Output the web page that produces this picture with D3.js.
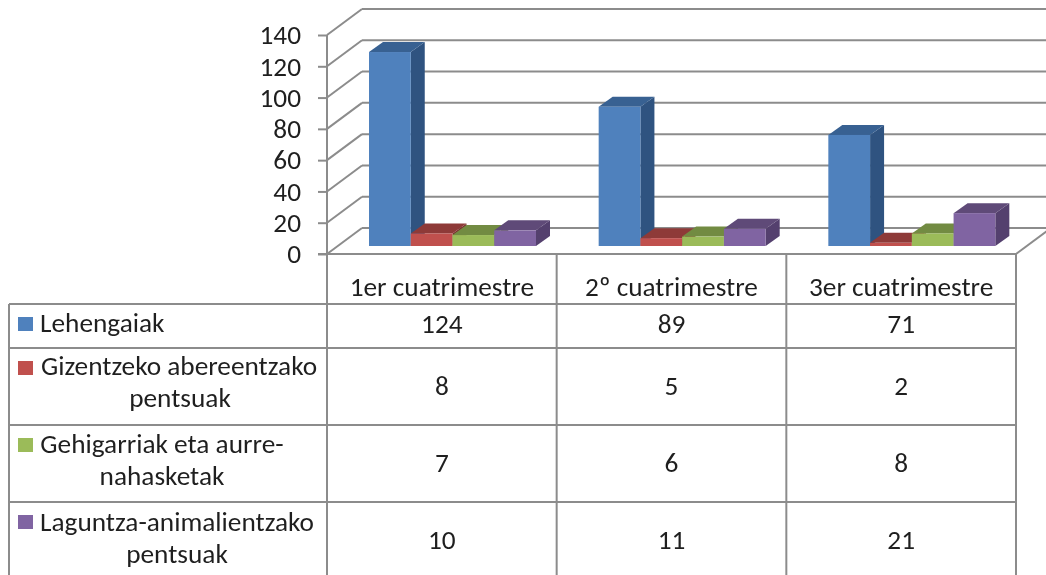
<!DOCTYPE html>
<html>
<head>
<meta charset="utf-8">
<script src="https://cdn.jsdelivr.net/npm/d3@7"></script>
<style>
  html, body { margin: 0; padding: 0; background: #fff; overflow: hidden; }
  svg { display: block; filter: blur(0.6px); }
  text { font-family: Carlito, Lato, "Open Sans", sans-serif; fill: #1f1f1f; font-size: 27.3px; }
  .axis path { display: none; }
  .axis line, .grid, .rule { stroke: #8c8c8c; stroke-width: 2; fill: none; }
</style>
</head>
<body>
<div id="chart"></div>
<script>
const quarters = ['1er cuatrimestre', '2º cuatrimestre', '3er cuatrimestre'];
const seriesNames = ['Lehengaiak', 'Gizentzeko abereentzako', 'Gehigarriak eta aurre-', 'Laguntza-animalientzako'];
const seriesSecondLine = ['', 'pentsuak', 'nahasketak', 'pentsuak'];
const lehengaiak = [124, 89, 71];
const gizentzeko = [8, 5, 2];
const gehigarriak = [7, 6, 8];
const laguntza = [10, 11, 21];
const yTicks = [0, 20, 40, 60, 80, 100, 120, 140];

const allSeries = [lehengaiak, gizentzeko, gehigarriak, laguntza];
const front = ['#4f81bd', '#c0504d', '#9bbb59', '#8064a2'];
const top_ = ['#386192', '#8e3a38', '#728b42', '#5f4a78'];
const side = ['#2f5380', '#7a302e', '#617637', '#54406e'];

const width = 1046, height = 575;

const svg = d3.select('#chart').append('svg')
  .attr('width', width)
  .attr('height', height);

const x = d3.scaleBand().domain(quarters).range([327, 1016]);
const inner = d3.scaleBand().domain(d3.range(4))
  .range([42, 42 + 167]);
const y = d3.scaleLinear().domain([0, 140]).range([254, 35]);

// wall and floor depth of the fake 3d
const wallDx = 35, wallDy = -26;
const barDx = 14, barDy = -10, barLift = -8;

function addText(px, py, str, anchor) {
  return svg.append('text')
    .attr('x', px)
    .attr('y', py)
    .attr('text-anchor', anchor || 'middle')
    .text(str);
}

// back wall grid, clipped by the picture edge
svg.append('g').selectAll('line').data(yTicks).join('line')
  .attr('class', 'grid')
  .attr('x1', 327 + wallDx).attr('x2', 1016 + wallDx)
  .attr('y1', d => y(d) + wallDy).attr('y2', d => y(d) + wallDy);
svg.append('g').selectAll('line').data(yTicks).join('line')
  .attr('class', 'grid')
  .attr('x1', 327).attr('x2', 327 + wallDx)
  .attr('y1', d => y(d)).attr('y2', d => y(d) + wallDy);
svg.append('line').attr('class', 'grid')
  .attr('x1', 1016).attr('x2', 1016 + wallDx)
  .attr('y1', y(0)).attr('y2', y(0) + wallDy);

// bars, left to right so the side faces get covered
quarters.forEach((q, qi) => {
  allSeries.forEach((values, si) => {
    const g = svg.append('g');
    const x0 = x(q) + inner(si);
    const x1 = x0 + inner.bandwidth();
    const yb = y(0) + barLift;
    const yt = y(values[qi]) + barLift;
    g.append('path').attr('fill', side[si])
      .attr('d', `M${x1},${yt}L${x1 + barDx},${yt + barDy}L${x1 + barDx},${yb + barDy}L${x1},${yb}Z`);
    g.append('path').attr('fill', top_[si])
      .attr('d', `M${x0},${yt}L${x0 + barDx},${yt + barDy}L${x1 + barDx},${yt + barDy}L${x1},${yt}Z`);
    g.append('rect').attr('fill', front[si])
      .attr('x', x0).attr('y', yt)
      .attr('width', inner.bandwidth()).attr('height', yb - yt);
  });
});

// y axis
const axis = svg.append('g')
  .attr('class', 'axis')
  .attr('transform', 'translate(327,0)')
  .call(d3.axisLeft(y).tickValues(yTicks).tickSize(9).tickPadding(17));
axis.attr('font-family', null).attr('font-size', null);
svg.append('line').attr('class', 'rule').attr('x1', 327).attr('x2', 327).attr('y1', y(140)).attr('y2', 575);

// table rules
const rowLines = [254, 304, 348, 425, 502];
rowLines.forEach(ry => {
  svg.append('line').attr('class', 'rule')
    .attr('x1', ry === 254 ? 318 : 9).attr('x2', 1016)
    .attr('y1', ry).attr('y2', ry);
});
svg.append('line').attr('class', 'rule').attr('x1', 9).attr('x2', 9).attr('y1', 304).attr('y2', 575);
quarters.forEach(q => {
  svg.append('line').attr('class', 'rule')
    .attr('x1', x(q) + x.bandwidth()).attr('x2', x(q) + x.bandwidth())
    .attr('y1', 254).attr('y2', 575);
});

// header row
quarters.forEach(q => addText(x(q) + x.bandwidth() / 2, 296, q));

// legend cells and values
const rowBase = [332, 375, 453, 531];
const rowValue = [333, 395, 472, 549];
const swatchY = [317, 361, 438, 515];
const labelX = [40, 179, 162, 177];
const secondX = [0, 180, 162, 177];

seriesNames.forEach((name, i) => {
  svg.append('rect')
    .attr('x', 18).attr('y', swatchY[i])
    .attr('width', 15).attr('height', 14)
    .attr('fill', front[i]);
  addText(labelX[i], rowBase[i], name, i === 0 ? 'start' : 'middle');
  if (seriesSecondLine[i]) addText(secondX[i], rowBase[i] + 32, seriesSecondLine[i]);
  allSeries[i].forEach((v, j) => {
    addText(x(quarters[j]) + x.bandwidth() / 2, rowValue[i], v);
  });
});
</script>
</body>
</html>
